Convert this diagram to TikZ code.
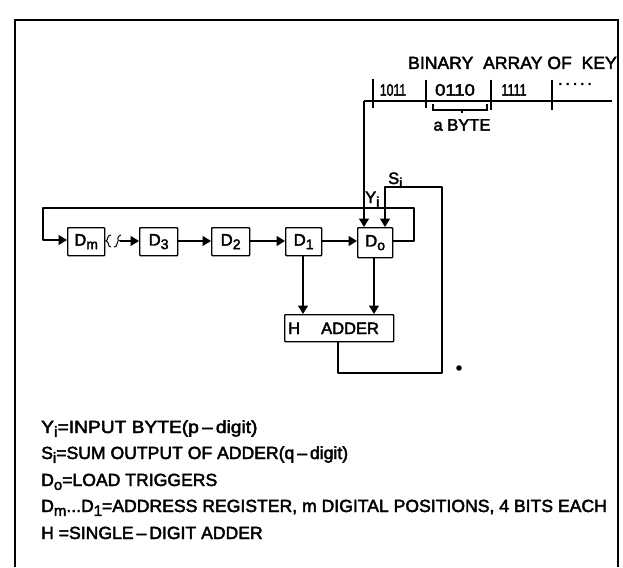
\documentclass[tikz,border=0pt]{standalone}
\usepackage{fontspec}
\setmainfont[FakeBold=2.5]{Liberation Sans}
\usetikzlibrary{arrows.meta}
\newcommand\subx[1]{\raisebox{-0.42ex}{\scalebox{.85}{#1}}}
\tikzset{
  x=1pt,y=-1pt,
  wire/.style={line width=1.4pt,line join=round},
  arr/.style={wire,-{Triangle[length=8.5pt,width=10pt]}},
  box/.style={draw,line width=1.4pt,rounded corners=0.8pt,inner sep=0pt,anchor=north west},
  lab/.style={inner sep=0pt,font=\fontsize{16.5}{18}\selectfont},
  leg/.style={inner sep=0pt,anchor=base west,font=\fontsize{17.6}{19}\selectfont},
  tick/.style={line width=1.2pt},
}
\begin{document}
\begin{tikzpicture}
\useasboundingbox (0,0) rectangle (623,567);
% frame
\coordinate (fa) at (15,567); \coordinate (fb) at (15,20); \coordinate (fc) at (618,20); \coordinate (fd) at (618,567);
\draw[line width=1.4pt] (fa) -- (fb) -- (fc) -- (fd);
% boxes
\node[box,minimum width=37pt,minimum height=28pt] (dm) at (67,227) {};
\node[box,minimum width=38pt,minimum height=28pt] (d3) at (139,227) {};
\node[box,minimum width=38pt,minimum height=28pt] (d2) at (211,227) {};
\node[box,minimum width=36pt,minimum height=28pt] (d1) at (285,227) {};
\node[box,minimum width=35pt,minimum height=30pt] (d0) at (357,227) {};
\node[box,minimum width=109pt,minimum height=27pt] (add) at (284,314) {};
\node[lab] at (dm.center) {D\subx{m}};
\node[lab] at (d3.center) {D\subx{3}};
\node[lab] at (d2.center) {D\subx{2}};
\node[lab] at (d1.center) {D\subx{1}};
\node[lab] at (d0.center) {D\subx{o}};
\node[lab,anchor=base west] (addh) at (288,334) {H};
\node[lab,anchor=base west] (addt) at (321,334) {ADDER};
% chain
\draw[arr] (d3.east |- 0,241) -- (d2.west |- 0,241);
\draw[arr] (d2.east |- 0,241) -- (d1.west |- 0,241);
\draw[arr] (d1.east |- 0,241) -- (d0.west |- 0,241);
\coordinate (s2) at (120,241);
\draw[arr] (s2) -- (d3.west |- 0,241);
\draw[line width=1pt] (dm.east |- 0,241) .. controls (109,241) and (106,235) .. (111,235);
\draw[line width=1pt] (106,241) .. controls (110,242) and (107,247) .. (111,247);
\draw[line width=1pt] (120,241) .. controls (116,241) and (118,235) .. (121,235);
\draw[line width=1pt] (118,241) .. controls (116,243) and (118,247) .. (114,247);
% feedback
\coordinate (r1) at (414,241); \coordinate (r2) at (414,208); \coordinate (r3) at (43,208); \coordinate (r4) at (43,240);
\draw[arr] (d0.east |- r1) -- (r1) -- (r2) -- (r3) -- (r4) -- (dm.west |- r4);
% key input
\coordinate (k0) at (364,101); \coordinate (k1) at (612,101);
\draw[wire] (k0) -- (k1);
\draw[arr] (k0) -- (d0.north -| k0);
% sum return
\coordinate (a1) at (338,373); \coordinate (a2) at (442,373); \coordinate (a3) at (442,187); \coordinate (a4) at (385,187);
\draw[arr] (add.south -| a1) -- (a1) -- (a2) -- (a3) -- (a4) -- (d0.north -| a4);
% to adder
\draw[arr] (d1.south -| 303,0) -- (add.north -| 303,0);
\draw[arr] (d0.south -| 374,0) -- (add.north -| 374,0);
% ticks
\foreach \n/\x/\a/\b in {t1/373/79/108,t2/426/80/108,t3/491/80/110,t4/552/80/110}{
  \coordinate (\n a) at (\x,\a); \coordinate (\n b) at (\x,\b);
  \draw[tick] (\n a) -- (\n b);
}
% brace
\coordinate (b1) at (433,104); \coordinate (b2) at (433,110); \coordinate (b3) at (487,110); \coordinate (b4) at (487,104);
\coordinate (b5) at (462,110); \coordinate (b6) at (462,113);
\draw[line width=1.1pt] (b1) -- (b2) -- (b3) -- (b4) (b5) -- (b6);
% key text
\node[leg,anchor=base east] (title) at (617,69) {BINARY\ \ ARRAY OF\ \ KEY};
\node[lab] (n1) at (393,90) {\scalebox{.74}[1]{1011}};
\node[lab] (n2) at (455,90) {\scalebox{1.12}[1]{0110}};
\node[lab] (n3) at (514,90) {\scalebox{.76}[1]{1111}};
\node[lab] (n4) at (575,84) {.\,.\,.\,.\,.};
\node[lab] (byte) at (462,125) {a BYTE};
\node[lab,anchor=base west] (yi) at (365,203) {Y\subx{i}};
\node[lab,anchor=base west] (si) at (388,184) {S\subx{i}};
\fill (459,368) circle (2.8pt);
% legend
\node[leg] (l1) at (41,433) {\scalebox{1.09}[1]{Y\subx{i}=INPUT BYTE(p\,--\,digit)}};
\node[leg] (l2) at (41,459) {S\subx{i}=SUM OUTPUT OF ADDER(q\,--\,digit)};
\node[leg] (l3) at (41,486) {D\subx{o}=LOAD TRIGGERS};
\node[leg] (l4) at (41,512) {D\subx{m}...D\subx{1}=ADDRESS REGISTER, m DIGITAL POSITIONS, 4 BITS EACH};
\node[leg] (l5) at (41,539) {H =SINGLE\,--\,DIGIT ADDER};
\end{tikzpicture}
\end{document}
